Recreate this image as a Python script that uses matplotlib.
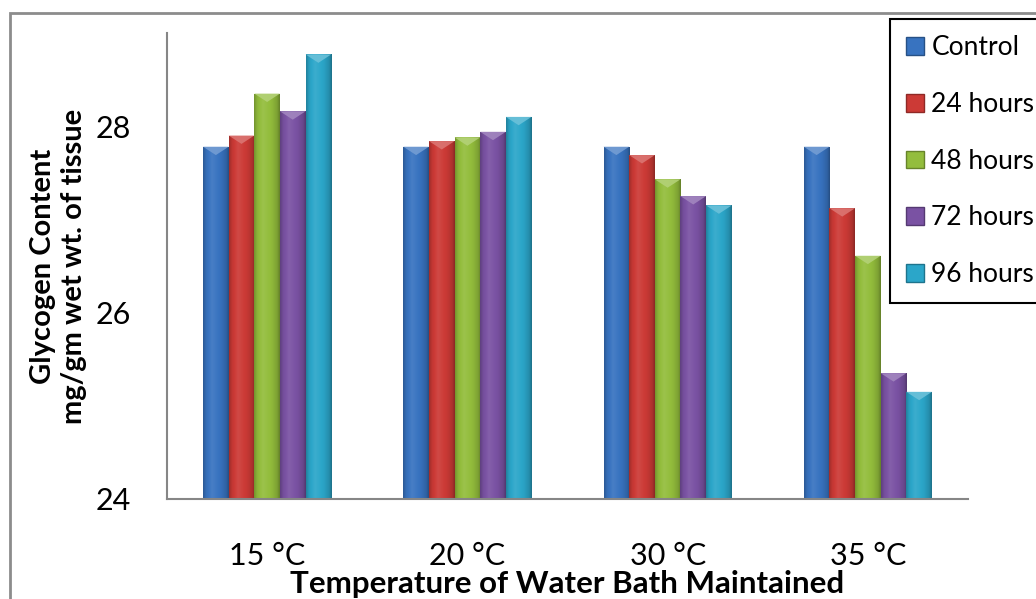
"""Glycogen content vs water bath temperature, grouped bars per exposure time."""
import numpy as np
import matplotlib
matplotlib.use("Agg")
import matplotlib.pyplot as plt
from matplotlib.patches import Rectangle, Polygon, Patch
from matplotlib.colors import to_rgb

temps = ["15 °C", "20 °C", "30 °C", "35 °C"]
series = ["Control", "24 hours", "48 hours", "72 hours", "96 hours"]
control = [27.78, 27.78, 27.78, 27.78]
h24 = [27.90, 27.84, 27.69, 27.12]
h48 = [28.35, 27.88, 27.43, 26.61]
h72 = [28.16, 27.94, 27.25, 25.35]
h96 = [28.77, 28.10, 27.15, 25.15]
values = [control, h24, h48, h72, h96]
colors = ["#3873c0", "#cc3a36", "#93bd3c", "#7a52a3", "#2ba6c9"]
yticks = [24, 26, 28]

plt.rcParams["font.family"] = ["Lato", "DejaVu Sans"]


def shade(color, f):
    c = np.array(to_rgb(color))
    if f >= 1:
        return c + (1 - c) * (f - 1)
    return c * f


def bevel_bar(ax, rect, color):
    x0, y0 = rect.get_x(), rect.get_y()
    w, h = rect.get_width(), rect.get_height()
    t = np.linspace(0, 1, 64)
    prof = np.interp(t, [0, 0.12, 0.35, 0.7, 0.9, 1.0],
                     [0.78, 0.95, 1.08, 0.97, 0.85, 0.68])
    img = np.array([[shade(color, f) for f in prof]])
    im = ax.imshow(img, extent=(x0, x0 + w, y0, y0 + h), aspect="auto",
                   interpolation="bilinear", zorder=2)
    im.set_clip_path(rect)
    top = y0 + h
    d = 0.09
    tri = Polygon([(x0, top), (x0 + w, top), (x0 + w / 2, top - d)],
                  closed=True, facecolor=shade(color, 1.3), edgecolor="none",
                  zorder=3, alpha=0.9)
    ax.add_patch(tri)


fig = plt.figure(figsize=(10.36, 5.99), dpi=100)
ax = fig.add_axes([167 / 1036, 1 - 499 / 599, 801 / 1036, 466 / 599])

x = np.arange(len(temps))
bw = 0.128
for i, (name, vals, col) in enumerate(zip(series, values, colors)):
    bars = ax.bar(x + (i - 2) * bw, np.array(vals) - 24, bw, bottom=24,
                  color=col, label=name, zorder=1)
    for b in bars:
        bevel_bar(ax, b, col)

ax.set_xlim(-0.5, len(temps) - 0.5)
ax.set_ylim(24, 29)
ax.set_yticks(yticks)
ax.set_xticks(x)
ax.set_xticklabels(temps)
ax.tick_params(axis="both", length=0, labelsize=22, colors="#000000")
ax.tick_params(axis="y", pad=26)
ax.tick_params(axis="x", pad=31)
for s in ["top", "right"]:
    ax.spines[s].set_visible(False)
for s in ["left", "bottom"]:
    ax.spines[s].set_color("#868686")
    ax.spines[s].set_linewidth(1.5)

ax.set_xlabel("Temperature of Water Bath Maintained", fontsize=22.5,
              fontweight="bold", va="center")
ax.xaxis.set_label_coords(0.5, -0.183)
ax.set_ylabel("Glycogen Content\nmg/gm wet wt. of tissue", fontsize=21,
              fontweight="bold", linespacing=1.25)
ax.yaxis.set_label_coords(-0.1, 0.5)

# outer chart frame (cropped at right and bottom)
fig.patches.append(Rectangle((10 / 1036, -0.2), 1.2, 1.2 - 13 / 599,
                             transform=fig.transFigure, fill=False,
                             edgecolor="#8c8c8c", linewidth=2))

handles = [Patch(facecolor=c, edgecolor=shade(c, 0.7)) for c in colors]
leg = fig.legend(handles, series, loc="upper left",
                 bbox_to_anchor=(890 / 1036, 1 - 19 / 599), borderaxespad=0,
                 fontsize=19, handlelength=0.65, handleheight=0.65,
                 handletextpad=0.3, labelspacing=1.2, borderpad=0.62,
                 fancybox=False, framealpha=1, edgecolor="#000000")
leg.get_frame().set_linewidth(1.5)

fig.savefig("out.png", dpi=100)
